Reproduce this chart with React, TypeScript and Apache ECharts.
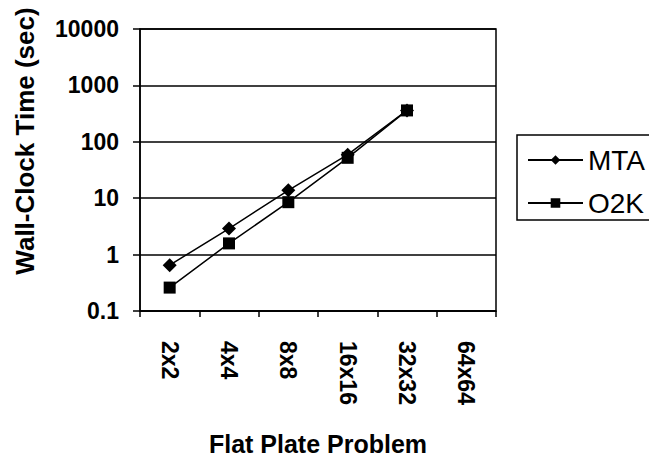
import React, { useEffect, useRef } from "react";
import * as echarts from "echarts";

const categories = ["2x2", "4x4", "8x8", "16x16", "32x32", "64x64"];
const mtaValues = [0.65, 2.9, 13.8, 59, 360, null];
const o2kValues = [0.26, 1.58, 8.5, 52, 360, null];

const FONT = "'Liberation Sans', Arial, Helvetica, sans-serif";

export default function App() {
  const ref = useRef<HTMLDivElement>(null);
  useEffect(() => {
    if (!ref.current) return;
    const chart = echarts.init(ref.current, null, { renderer: "svg" });
    chart.setOption({
      animation: false,
      backgroundColor: "#ffffff",
      grid: {
        left: 140,
        right: 153,
        top: 29,
        bottom: 138,
        show: true,
        borderColor: "#000",
        borderWidth: 1.5,
        containLabel: false,
      },
      legend: {
        orient: "vertical",
        left: 517,
        top: 135,
        padding: [11, 10, 3, 10],
        itemGap: 15,
        itemWidth: 55,
        itemHeight: 12,
        borderColor: "#000",
        borderWidth: 1.5,
        textStyle: { fontFamily: FONT, fontSize: 28, lineHeight: 28, color: "#000" },
        data: ["MTA", "O2K"],
      },
      xAxis: {
        type: "category",
        data: categories,
        boundaryGap: true,
        axisLine: { lineStyle: { color: "#000", width: 1.5 } },
        axisTick: { show: true, length: 6, lineStyle: { color: "#000", width: 1.5 } },
        axisLabel: {
          rotate: -90,
          margin: 30,
          fontFamily: FONT,
          fontSize: 23,
          fontWeight: "bold",
          color: "#000",
        },
        name: "Flat Plate Problem",
        nameLocation: "middle",
        nameGap: 120,
        nameTextStyle: { fontFamily: FONT, fontSize: 25, fontWeight: "bold", color: "#000" },
      },
      yAxis: {
        type: "log",
        logBase: 10,
        min: 0.1,
        max: 10000,
        axisLine: { show: true, lineStyle: { color: "#000", width: 1.5 } },
        axisTick: { show: true, length: 7, lineStyle: { color: "#000", width: 1.5 } },
        splitLine: { show: true, lineStyle: { color: "#000", width: 1.5 } },
        minorTick: { show: false },
        axisLabel: {
          margin: 21,
          fontFamily: FONT,
          fontSize: 23,
          fontWeight: "bold",
          color: "#000",
          formatter: (v: number) => String(Number(v.toPrecision(6))),
        },
      },
      graphic: [
        {
          type: "text",
          x: 25,
          y: 141,
          rotation: Math.PI / 2,
          style: {
            text: "Wall-Clock Time (sec)",
            fontFamily: FONT,
            fontSize: 26,
            fontWeight: "bold",
            fill: "#000",
            align: "center",
            verticalAlign: "middle",
          },
        },
      ],
      series: [
        {
          name: "MTA",
          type: "line",
          data: mtaValues,
          symbol: "diamond",
          symbolSize: 14,
          lineStyle: { color: "#000", width: 1.5 },
          itemStyle: { color: "#000" },
          z: 3,
        },
        {
          name: "O2K",
          type: "line",
          data: o2kValues,
          symbol: "rect",
          symbolSize: 12,
          lineStyle: { color: "#000", width: 1.5 },
          itemStyle: { color: "#000" },
          z: 4,
        },
      ],
    });
    return () => chart.dispose();
  }, []);
  return (
    <div
      ref={ref}
      style={{ position: "absolute", left: 0, top: 0, width: 649, height: 461 }}
    />
  );
}
